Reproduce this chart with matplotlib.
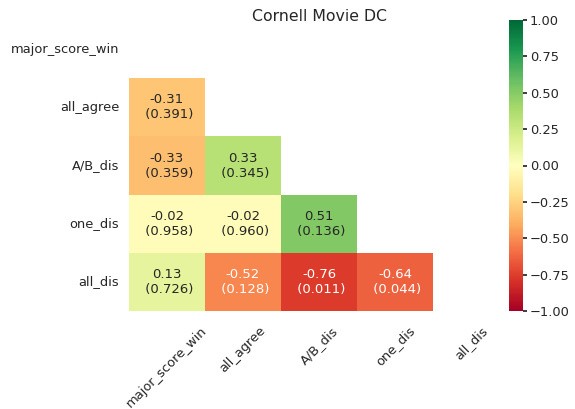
import numpy as np
import matplotlib
matplotlib.use("Agg")
import matplotlib.pyplot as plt
import seaborn as sns

labels = ["major_score_win", "all_agree", "A/B_dis", "one_dis", "all_dis"]

# lower triangle, row by row (row i has i values)
corr_rows = [
    [],
    [-0.31],
    [-0.33, 0.33],
    [-0.02, -0.02, 0.51],
    [0.13, -0.52, -0.76, -0.64],
]
pval_rows = [
    [],
    [0.391],
    [0.359, 0.345],
    [0.958, 0.960, 0.136],
    [0.726, 0.128, 0.011, 0.044],
]

n = len(labels)
corr = np.eye(n)
pval = np.zeros((n, n))
for i in range(n):
    for j, (r, p) in enumerate(zip(corr_rows[i], pval_rows[i])):
        corr[i, j] = corr[j, i] = r
        pval[i, j] = pval[j, i] = p

annot = np.empty((n, n), dtype=object)
for i in range(n):
    for j in range(n):
        annot[i, j] = f"{corr[i, j]:.2f}\n ({pval[i, j]:.3f})"

mask = np.triu(np.ones((n, n), dtype=bool))

sns.set_theme(style="white")

fig = plt.figure(figsize=(5.75, 4.09), dpi=100)
W, H = 575, 409
ax = fig.add_axes([129 / W, 1 - 311 / H, 380 / W, 291 / H])
cax = fig.add_axes([509 / W, 1 - 311 / H, 14 / W, 291 / H])

sns.heatmap(corr, mask=mask, annot=annot, fmt="", cmap="RdYlGn",
            vmin=-1, vmax=1, ax=ax, cbar_ax=cax,
            xticklabels=labels, yticklabels=labels,
            annot_kws={"fontsize": 9.5})

# title sits a bit into the (empty) top row, as in the original
fig.text(319 / W, 1 - 21 / H, "Cornell Movie DC", ha="center", va="baseline",
         fontsize=11.3, color="#262626")

ax.set_xticklabels(labels, rotation=45, ha="center")
ax.tick_params(axis="x", labelsize=9.35, length=0, pad=9.5)
ax.tick_params(axis="y", labelsize=9.35, length=0, pad=7, rotation=0)
cax.tick_params(labelsize=9.35, length=3, pad=2)

fig.savefig("out.png", dpi=100)
